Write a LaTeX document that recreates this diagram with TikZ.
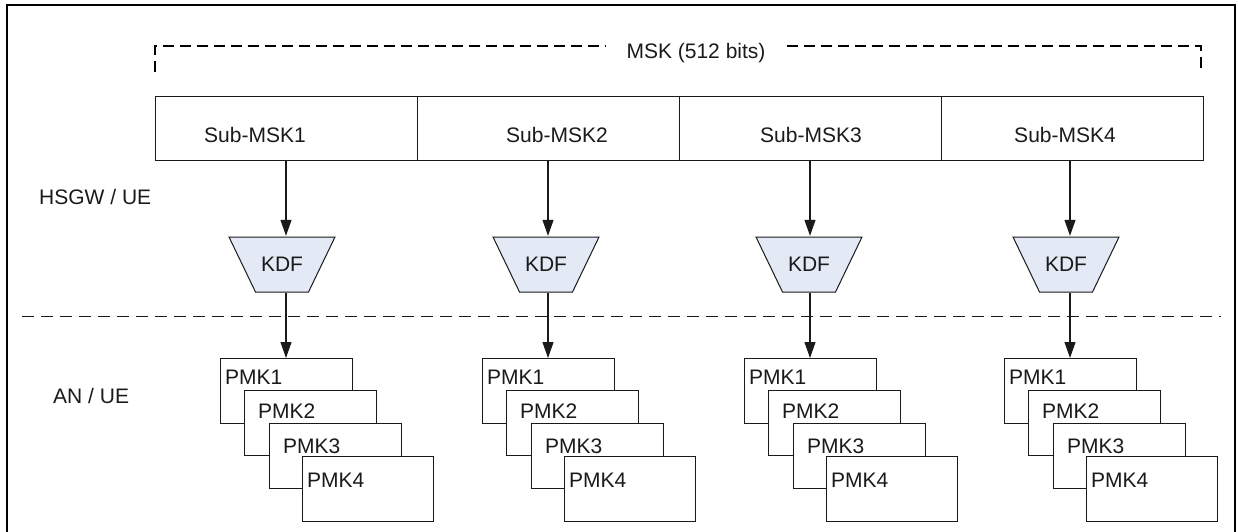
\documentclass[tikz,border=0pt]{standalone}
\usepackage{fontspec}
\setmainfont{Liberation Sans}
\usetikzlibrary{arrows.meta}

\definecolor{kdffill}{HTML}{E4EAF5}
\definecolor{ink}{HTML}{1A1A1A}

\tikzset{
  txt/.style={font=\fontsize{21}{25}\selectfont, inner sep=0pt, text=ink},
  subbox/.style={draw=ink, line width=1.1pt, minimum width=262pt, minimum height=64pt, inner sep=0pt, anchor=north west},
  pmkbox/.style={draw=ink, fill=white, line width=1.1pt, minimum width=132pt, minimum height=65pt, inner sep=0pt, anchor=north west},
  kdfbox/.style={minimum width=108pt, minimum height=57pt, inner sep=0pt,
    font=\fontsize{21}{25}\selectfont, text=ink,
    path picture={
      \draw[draw=ink, fill=kdffill, line width=1pt]
        ([shift={(1pt,-1pt)}]path picture bounding box.north west) --
        ([shift={(-1pt,-1pt)}]path picture bounding box.north east) --
        ([shift={(-27.5pt,1pt)}]path picture bounding box.south east) --
        ([shift={(27.5pt,1pt)}]path picture bounding box.south west) -- cycle;
    }},
  arr/.style={draw=ink, line width=1.1pt, -{Triangle[width=11pt,length=16pt]}},
  frame/.style={draw=black, line width=2pt},
  bracket/.style={draw=black, line width=2pt, dash pattern=on 11pt off 6pt},
  divider/.style={draw=ink, line width=1pt, dash pattern=on 12pt off 7pt}
}

\begin{document}
\begin{tikzpicture}[x=1pt, y=-1pt]
  \useasboundingbox (0,0) rectangle (1238,532);

  % outer frame (open at the bottom)
  \draw[frame] (7,532) -- (7,5) -- (1235,5) -- (1235,532);

  % MSK bracket with its title
  \node[txt] (msk) at (696,53) {MSK (512 bits)};
  \coordinate (brL) at (155,72);
  \coordinate (brR) at (1201,72);
  \draw[bracket] (brL) -- (155,46) -- (606,46);
  \draw[bracket] (787,46) -- (1201,46) -- (brR);

  % layer labels
  \node[txt, anchor=west] (hsgw) at (39,197) {HSGW / UE};
  \node[txt, anchor=west] (anue) at (53,396) {AN / UE};

  % separator between the two layers
  \coordinate (sepL) at (22,316);
  \coordinate (sepR) at (1221,316);
  \draw[divider] (sepL) -- (sepR);

  % the four columns: index / arrow x / KDF x / label x
  \foreach \i/\a/\k/\t in {1/286/282/255, 2/548/546/557, 3/810/809/811, 4/1070/1066/1065} {
    \node[subbox] (sub\i) at ({155+262*(\i-1)},96) {};
    \node[txt] (sublbl\i) at (\t,135) {Sub-MSK\i};
    \coordinate (col\i) at (\a,0);
    \node[kdfbox] (kdf\i) at (\k,264.5) {KDF};
    \draw[arr] (sub\i.south -| col\i) -- (kdf\i.north -| col\i);

    % stack of PMK boxes
    \node[pmkbox] (pmkA\i) at (\a-66,358) {};
    \node[txt, anchor=base west] (pmkAt\i) at (\a-61,384) {PMK1};
    \node[pmkbox] (pmkB\i) at (\a-42,390) {};
    \node[txt, anchor=base west] (pmkBt\i) at (\a-28,418) {PMK2};
    \node[pmkbox] (pmkC\i) at (\a-17,423) {};
    \node[txt, anchor=base west] (pmkCt\i) at (\a-3,453) {PMK3};
    \node[pmkbox, minimum width=131pt] (pmkD\i) at (\a+16,456) {};
    \node[txt, anchor=base west] (pmkDt\i) at (\a+21,487) {PMK4};

    \draw[arr] (kdf\i.south -| col\i) -- (pmkA\i.north -| col\i);
  }
\end{tikzpicture}
\end{document}
